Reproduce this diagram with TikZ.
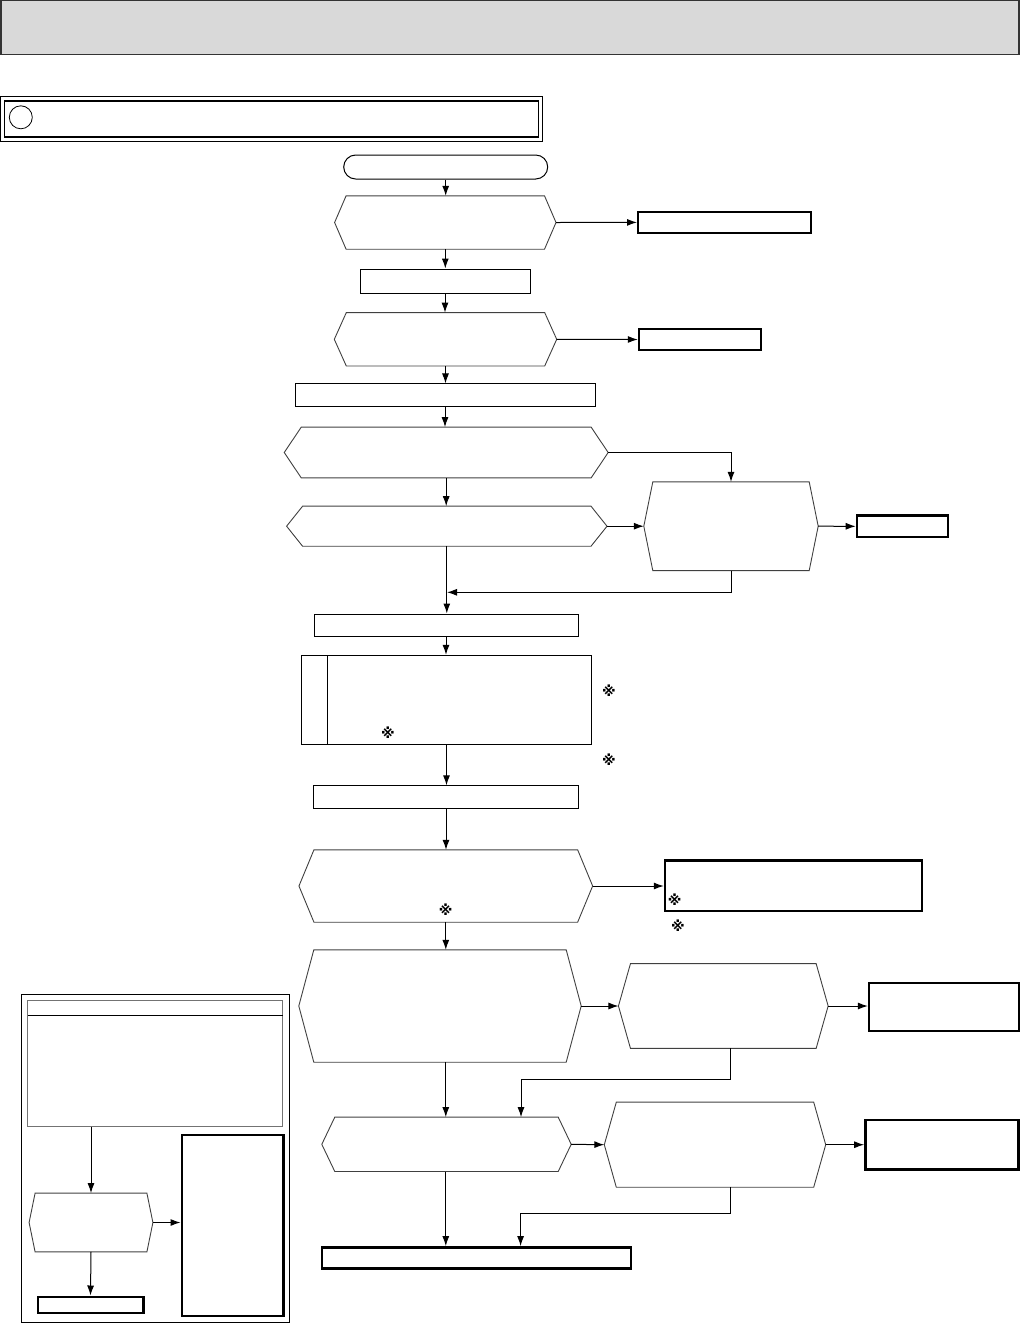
\documentclass[tikz,border=0pt]{standalone}
\usepackage{fontspec}
\newfontfamily\symfont{DejaVu Sans}
\usetikzlibrary{arrows.meta, calc}
\definecolor{hdrgray}{RGB}{217, 217, 217}

\tikzset{
  sz/.style 2 args={minimum width=#1pt, minimum height=#2pt, inner sep=0pt},
  box/.style={draw, line width=1pt},
  boldbox/.style={draw, line width=2.4pt},
  hexline/.style={draw=black!75, line width=0.9pt},
  arr/.style={-{Latex[length=10pt, width=7pt]}, line width=1pt},
  refmark/.style={inner sep=0pt, font=\symfont\bfseries\fontsize{14}{14}\selectfont}
}

\begin{document}
\begin{tikzpicture}[x=1pt, y=-1pt]
  \useasboundingbox (0,0) rectangle (1020,1323);
  \node[draw=black!80, fill=hdrgray, line width=1.3pt, sz={1018}{54}] (hdr) at (510,27.7){};
  \node[box, sz={542}{45}] (ttl) at (271.5,118.9){};
  \node[draw, line width=1.5pt, sz={534}{35.7}] (ttlin) at (271.6,118.9){};
  \node[draw, circle, line width=0.8pt, minimum size=23pt, inner sep=0pt] (ttlc) at (20.8,117.3){};

  \node[box, rounded corners=12pt, sz={204}{24}] (start) at (445.7,167){};
  \node[sz={221}{53}] (q1) at (445.3,222.5){};
  \node[boldbox, sz={173}{21}] (b1) at (724.7,222.4){};
  \node[box, sz={170}{24}] (p1) at (445,281){};
  \node[sz={222}{53}] (q2) at (445.5,339.3){};
  \node[boldbox, sz={122}{21}] (b2) at (700,339.5){};
  \node[box, sz={300}{22.7}] (p2) at (445,395.3){};
  \node[sz={323.5}{50.4}] (q3) at (446.2,452.5){};
  \node[sz={320}{39.7}] (q4) at (446.8,526.2){};
  \node[sz={174}{88.3}] (q5) at (731,526.2){};
  \node[boldbox, sz={91}{21.3}] (b5) at (902.4,526.3){};
  \node[box, sz={264}{22}] (p3) at (446,625){};
  \node[box, sz={290}{89}] (p4) at (446.5,699.8){};
  \draw[line width=1pt] (327.3,655.3) -- (327.3,744.3);
  \node[box, sz={265}{22.3}] (p5) at (446,797){};
  \node[sz={293.3}{72}] (q6) at (445.8,886){};
  \node[boldbox, sz={257}{50.7}] (b6) at (793.5,885.7){};
  \node[sz={282}{112}] (q7) at (440,1006){};
  \node[sz={209.3}{84.3}] (q8) at (723.3,1006){};
  \node[boldbox, sz={149.7}{48}] (b7) at (943.9,1006.7){};
  \node[sz={249}{54}] (q9) at (446.5,1144.3){};
  \node[sz={221}{84.7}] (q10) at (715,1144.7){};
  \node[boldbox, sz={153.3}{49.7}] (b10) at (942,1144.8){};
  \node[boldbox, sz={309}{21}] (fin) at (476.5,1257.8){};

  \node[draw, line width=1pt, sz={267.6}{328}] (lframe) at (155.5,1158.3){};
  \node[draw=black!55, line width=1pt, sz={255}{126}] (lg) at (155.2,1063){};
  \draw[line width=1pt] (27.7,1015) -- (282.7,1015);
  \node[sz={123.4}{58.4}] (q11) at (91,1222.5){};
  \node[boldbox, sz={101.6}{181}] (tall) at (232.5,1225.2){};
  \node[boldbox, sz={105.6}{16}] (small) at (90.5,1304.7){};

  \foreach \n/\d in {q1/11.5, q2/12, q3/17, q4/16, q5/9, q6/15, q7/15, q8/12, q9/13, q10/12, q11/6}
    \draw[hexline] (\n.west) -- ([xshift=\d]\n.north west) -- ([xshift=-\d]\n.north east)
      -- (\n.east) -- ([xshift=-\d]\n.south east) -- ([xshift=\d]\n.south west) -- cycle;

  \node[refmark] (r1) at (609,691){※};
  \node[refmark] (r2) at (388,732.7){※};
  \node[refmark] (r3) at (609,760){※};
  \node[refmark] (r4) at (445.6,909.3){※};
  \node[refmark] (r5) at (674.6,900){※};
  \node[refmark] (r6) at (677.8,925.7){※};

  \coordinate (m1) at (447,592.3);
  \coordinate (j1) at (521,1079.3);
  \coordinate (j2) at (520.6,1213.3);

  \draw[arr] (start.south) -- (start.south |- q1.north);
  \draw[arr] (q1.east) -- (b1.west);
  \draw[arr] (q1.south) -- (q1.south |- p1.north);
  \draw[arr] (p1.south) -- (p1.south |- q2.north);
  \draw[arr] (q2.east) -- (b2.west);
  \draw[arr] (q2.south) -- (q2.south |- p2.north);
  \draw[arr] (p2.south) -- (p2.south |- q3.north);
  \draw[arr] (q3.south) -- (q3.south |- q4.north);
  \draw[arr] (q3.east) -| (q5.north);
  \draw[arr] (q4.east) -- (q5.west);
  \draw[arr] (q5.east) -- (b5.west);
  \draw[arr] (q5.south) |- (m1);
  \draw[arr] (q4.south) -- (q4.south |- p3.north);
  \draw[arr] (p3.south) -- (p3.south |- p4.north);
  \draw[arr] (p4.south) -- (p4.south |- p5.north);
  \draw[arr] (p5.south) -- (p5.south |- q6.north);
  \draw[arr] (q6.east) -- (q6.east -| b6.west);
  \draw[arr] (q6.south) -- (q6.south |- q7.north);
  \draw[arr] (q7.east) -- (q8.west);
  \draw[arr] (q8.east) -- (b7.west |- q8.east);
  \draw[arr] ([xshift=7.2]q8.south) |- (j1) -- (j1 |- q9.north);
  \draw[arr] (q6.south |- q7.south) -- (q6.south |- q9.north);
  \draw[arr] (q9.east) -- (q10.west);
  \draw[arr] (q10.east) -- (b10.west |- q10.east);
  \draw[arr] ([xshift=15.5]q10.south) |- (j2) -- (j2 |- fin.north);
  \draw[arr] (q6.south |- q9.south) -- (q6.south |- fin.north);

  \draw[arr] (lg.south -| q11.north) -- (q11.north);
  \draw[arr] (q11.east) -- (q11.east -| tall.west);
  \draw[arr] (q11.south) -- (small.north);
\end{tikzpicture}
\end{document}
